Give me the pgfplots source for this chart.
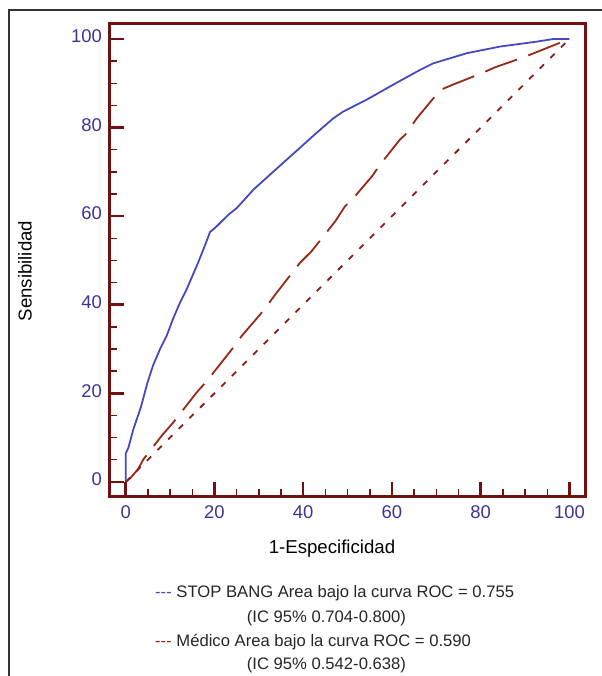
\documentclass[border=0pt]{standalone}
\usepackage{fontspec}
\setmainfont{Liberation Sans}
\usepackage{pgfplots}
\pgfplotsset{compat=1.18}

\definecolor{axred}{RGB}{112,16,16}
\definecolor{tickblue}{RGB}{60,50,155}
\definecolor{rocblue}{RGB}{72,72,190}
\definecolor{medred}{RGB}{150,40,20}
\definecolor{diagred}{RGB}{140,26,26}

\begin{document}
\begin{tikzpicture}
\useasboundingbox (-109.5bp,-179.5bp) rectangle (492.5bp,496.5bp);
% outer frame
\draw[line width=1.2bp, black!80] (-100.5bp,-181bp) -- (-100.5bp,486.5bp) -- (494bp,486.5bp);

\begin{axis}[
  scale only axis,
  width=475.5bp, height=473bp,
  xmin=-3.65, xmax=103.5,
  ymin=-3.3, ymax=103.5,
  xtick={0,20,...,100}, ytick={0,20,...,100},
  minor tick num=3,
  tick pos=left,
  tick align=inside,
  major tick length=15bp, minor tick length=8bp,
  axis line style={draw=axred, line width=3bp},
  major tick style={axred, line width=2.5bp},
  minor tick style={axred, line width=1.5bp},
  /pgf/number format/assume math mode=true,
  ticklabel style={font=\fontsize{18.5}{18.5}\selectfont, text=tickblue},
  xticklabel style={yshift=-6bp},
  yticklabel style={xshift=-4bp, yshift=2.5bp},
]
\addplot[rocblue, line width=1.8bp] coordinates {
  (0,0)(0,6.4)(0.6,7.7)(1.7,11.8)(3.4,16.8)(4.9,22.4)(6.2,26.4)(7.7,29.9)
  (9.2,32.9)(10.7,36.9)(12.2,40.4)(13.7,43.4)(16.4,49.7)(17.9,53.5)(19,56.4)
  (20.5,57.7)(23.1,60.3)(25,61.8)(28.8,66)(33,69.8)(37,73.4)(43,78.8)
  (46.8,82.1)(49,83.6)(54.3,86.3)(59.6,89.3)(63,91.2)(66.3,93)(69.3,94.5)
  (76.9,96.8)(84.4,98.3)(92.6,99.4)(96.4,100)(100,100)
};
\addplot[medred, line width=1.8bp, dash pattern=on 34bp off 12bp] coordinates {
  (0,0)(1,0.8)(2.8,2.9)(4,5.1)(8.1,10.4)(10.7,13.4)(16,20.2)(18.3,22.8)
  (23.9,29.9)(26.1,32.9)(30.3,37.8)(31.8,39.7)(33.7,42.3)(39.3,49.5)
  (41.9,52.1)(47.2,58.8)(49.4,62.2)(51,63.7)(55.5,69)(57.3,71.6)(61.8,77.3)
  (63,78.4)(65.6,82.1)(70.9,88.5)(73.5,89.6)(80.3,92.3)(83.2,93.6)(90,96)
  (93,97.2)(100,100)
};
\addplot[diagred, line width=1.8bp, dash pattern=on 6bp off 9bp] coordinates {
  (0,0)(100,100)
};
\end{axis}

% axis labels
\node[anchor=base, font=\fontsize{18.7}{18.7}\selectfont] at (222.5bp,-56.5bp) {1-Especificidad};
\node[anchor=base, rotate=90, font=\fontsize{18.7}{18.7}\selectfont] at (-77.8bp,225.5bp) {Sensibilidad};

% legend text
\begin{scope}[every node/.style={anchor=base west, inner sep=0pt, font=\fontsize{16.7}{16.7}\selectfont, text=black!85}]
\node at (45.5bp,-100.5bp) {\textcolor{rocblue}{{-}{-}{-}} STOP BANG Area bajo la curva ROC = 0.755};
\node at (137.2bp,-125.5bp) {(IC 95\% 0.704-0.800)};
\node at (45.5bp,-149.5bp) {\textcolor{medred}{{-}{-}{-}} Médico Area bajo la curva ROC = 0.590};
\node at (137.2bp,-172.5bp) {(IC 95\% 0.542-0.638)};
\end{scope}
\end{tikzpicture}
\end{document}
